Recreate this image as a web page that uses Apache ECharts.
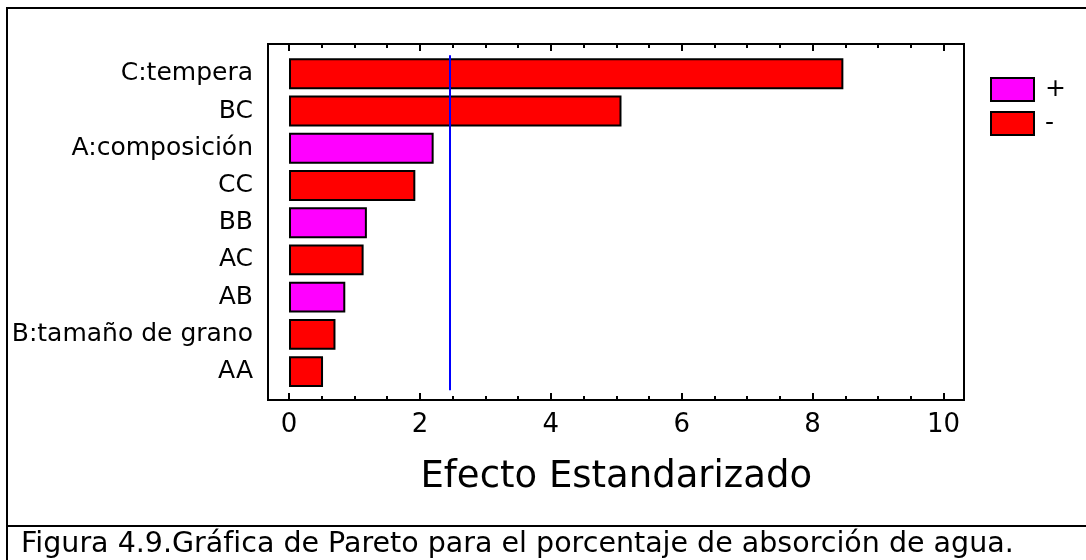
<!DOCTYPE html>
<html lang="es">
<head>
    <meta charset="UTF-8">
    <title>Gráfica de Pareto</title>
    <script src="https://cdn.jsdelivr.net/npm/echarts@6.0.0/dist/echarts.min.js"></script>
</head>
<body style="margin:0;background-color:white">

<div id="main" style="width:1086px;height:560px;"></div>

<script type="text/javascript">

    // datos (de arriba hacia abajo)
    var factores = ['C:tempera', 'BC', 'A:composición', 'CC', 'BB', 'AC', 'AB', 'B:tamaño de grano', 'AA']
    var efectos = [8.47, 5.08, 2.21, 1.93, 1.19, 1.14, 0.86, 0.71, 0.52]
    var signos = ['-', '-', '+', '-', '+', '-', '+', '-', '-']
    var limite = 2.45
    var ejeMin = 0
    var ejeMax = 10
    var ejePaso = 2

    var positivos = []
    var negativos = []
    for (var i = 0; i < efectos.length; i++) {
        positivos.push(signos[i] === '+' ? efectos[i] : null)
        negativos.push(signos[i] === '-' ? efectos[i] : null)
    }

    var fuente = 'DejaVu Sans'
    var myChart = echarts.init(document.getElementById('main'))

    var option = {
        backgroundColor: '#ffffff',
        animation: false,
        textStyle: {fontFamily: fuente, color: '#000'},
        grid: [
            // marco
            {left: 268, top: 44, width: 696, height: 356, show: true, borderColor: '#000', borderWidth: 2, backgroundColor: 'transparent'},
            // marcas del eje x
            {left: 289, top: 44, width: 654.5, height: 356},
            // barras
            {left: 289, top: 55.2, width: 654.5, height: 335}
        ],
        xAxis: [
            {gridIndex: 0, type: 'value', show: false, min: 0, max: 1},
            {
                gridIndex: 1, type: 'value', position: 'bottom', min: ejeMin, max: ejeMax, interval: ejePaso,
                axisLine: {show: false},
                axisTick: {show: true, inside: true, length: 7, lineStyle: {color: '#000', width: 2}},
                minorTick: {show: true, splitNumber: 4, length: 4, lineStyle: {color: '#000', width: 2}},
                splitLine: {show: false},
                axisLabel: {fontSize: 26, color: '#000', margin: 12, fontFamily: fuente},
                name: 'Efecto Estandarizado',
                nameLocation: 'middle',
                nameGap: 59,
                nameTextStyle: {fontSize: 37, color: '#000', fontFamily: fuente}
            },
            {
                gridIndex: 1, type: 'value', position: 'top', min: ejeMin, max: ejeMax, interval: ejePaso,
                axisLine: {show: false},
                axisTick: {show: true, inside: true, length: 7, lineStyle: {color: '#000', width: 2}},
                minorTick: {show: true, splitNumber: 4, length: 4, lineStyle: {color: '#000', width: 2}},
                splitLine: {show: false},
                axisLabel: {show: false}
            },
            {gridIndex: 2, type: 'value', show: false, min: ejeMin, max: ejeMax}
        ],
        yAxis: [
            {gridIndex: 0, type: 'value', show: false},
            {gridIndex: 1, type: 'value', show: false},
            {
                gridIndex: 2, type: 'category', data: factores, inverse: true,
                axisLine: {show: false},
                axisTick: {show: false},
                axisLabel: {fontSize: 25, color: '#000', margin: 36, fontFamily: fuente}
            }
        ],
        legend: {
            orient: 'vertical',
            left: 985,
            top: 72,
            itemWidth: 43,
            itemHeight: 23,
            itemGap: 9,
            icon: 'rect',
            data: ['+', '-'],
            textStyle: {fontSize: 25, color: '#000', fontFamily: fuente, lineHeight: 23, padding: [0, 0, 0, 6]}
        },
        series: [
            {
                name: '+', type: 'bar', xAxisIndex: 3, yAxisIndex: 2,
                data: positivos,
                barGap: '-100%',
                barCategoryGap: '17%',
                itemStyle: {color: '#ff00ff', borderColor: '#000', borderWidth: 2}
            },
            {
                name: '-', type: 'bar', xAxisIndex: 3, yAxisIndex: 2,
                data: negativos,
                barGap: '-100%',
                barCategoryGap: '17%',
                itemStyle: {color: '#ff0000', borderColor: '#000', borderWidth: 2},
                markLine: {
                    silent: true,
                    symbol: 'none',
                    label: {show: false},
                    lineStyle: {color: '#0000ff', width: 2, type: 'solid'},
                    data: [{xAxis: limite}]
                }
            }
        ],
        graphic: [
            {type: 'rect', shape: {x: 7, y: 8, width: 1200, height: 700}, style: {fill: 'none', stroke: '#000', lineWidth: 2}},
            {type: 'line', shape: {x1: 7, y1: 526, x2: 1100, y2: 526}, style: {stroke: '#000', lineWidth: 2}},
            {
                type: 'text', x: 21, y: 545,
                style: {
                    text: 'Figura 4.9.Gráfica de Pareto para el porcentaje de absorción de agua.',
                    fontSize: 28.5, fontFamily: fuente, fill: '#000', verticalAlign: 'middle'
                }
            }
        ]
    }

    myChart.setOption(option)

</script>

</body>
</html>
